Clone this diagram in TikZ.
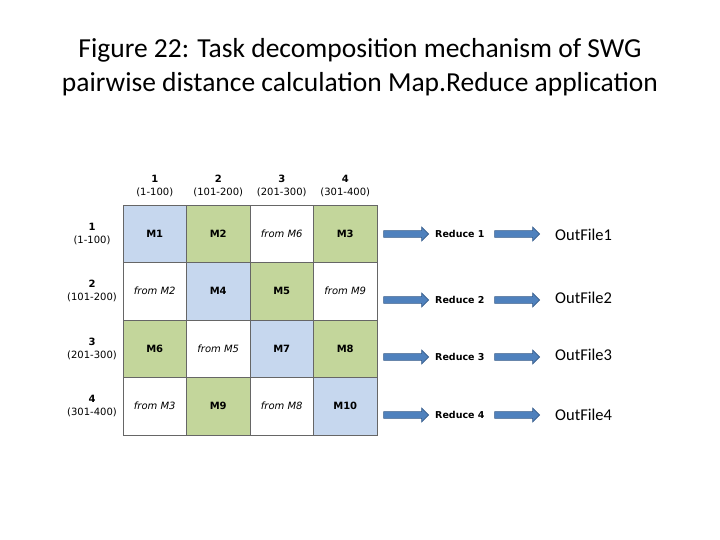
\documentclass[tikz,border=0pt]{standalone}
\usepackage{fontspec}
\setmainfont{Carlito}
\newfontfamily\vfont{DejaVu Sans}
\usetikzlibrary{shapes.arrows}
\definecolor{cb}{HTML}{C6D7EE}
\definecolor{cg}{HTML}{C3D69B}
\definecolor{ab}{HTML}{4F81BD}
\definecolor{abd}{HTML}{385D8A}
\tikzset{
 cell/.style={draw=black!60,line width=0.5pt,minimum width=63.5pt,minimum height=57.5pt,inner sep=0pt,font=\vfont\fontsize{10}{12}\selectfont\bfseries},
 fromc/.style={cell,fill=white,font=\vfont\fontsize{10}{12}\selectfont\itshape},
 hdr/.style={align=center,font=\vfont\fontsize{10}{12}\selectfont,inner sep=0pt},
 barr/.style={single arrow,fill=ab,draw=abd,line width=0.6pt,minimum width=14pt,single arrow head extend=2pt,single arrow head indent=0pt,minimum height=45pt,inner sep=1.5pt},
 red/.style={font=\vfont\fontsize{9.5}{12}\selectfont\bfseries,anchor=west,inner sep=0pt},
 outf/.style={font=\fontsize{16.5}{18}\selectfont,anchor=west,inner sep=0pt}
}
\begin{document}
\begin{tikzpicture}[x=1pt,y=-1pt]
\useasboundingbox (0,0) rectangle (720,540);
\node[align=center,font=\fontsize{27.5}{34}\selectfont] (title) at (360,67) {Figure 22: Task decomposition mechanism of SWG\\pairwise distance calculation Map.Reduce application};
% grid
\node[cell,fill=cb] (c11) at (154.75,233.75) {M1};
\node[cell,fill=cg] (c12) at (218.25,233.75) {M2};
\node[fromc] (c13) at (281.75,233.75) {from M6};
\node[cell,fill=cg] (c14) at (345.25,233.75) {M3};
\node[fromc] (c21) at (154.75,291.25) {from M2};
\node[cell,fill=cb] (c22) at (218.25,291.25) {M4};
\node[cell,fill=cg] (c23) at (281.75,291.25) {M5};
\node[fromc] (c24) at (345.25,291.25) {from M9};
\node[cell,fill=cg] (c31) at (154.75,348.75) {M6};
\node[fromc] (c32) at (218.25,348.75) {from M5};
\node[cell,fill=cb] (c33) at (281.75,348.75) {M7};
\node[cell,fill=cg] (c34) at (345.25,348.75) {M8};
\node[fromc] (c41) at (154.75,406.25) {from M3};
\node[cell,fill=cg] (c42) at (218.25,406.25) {M9};
\node[fromc] (c43) at (281.75,406.25) {from M8};
\node[cell,fill=cb] (c44) at (345.25,406.25) {M10};
% headers
\node[hdr] (h1) at (154.75,186) {\textbf{1}\\[1pt](1-100)};
\node[hdr] (h2) at (218.25,186) {\textbf{2}\\[1pt](101-200)};
\node[hdr] (h3) at (281.75,186) {\textbf{3}\\[1pt](201-300)};
\node[hdr] (h4) at (345.25,186) {\textbf{4}\\[1pt](301-400)};
\node[hdr] (r1) at (92,233.75) {\textbf{1}\\[1pt](1-100)};
\node[hdr] (r2) at (92,291.25) {\textbf{2}\\[1pt](101-200)};
\node[hdr] (r3) at (92,348.75) {\textbf{3}\\[1pt](201-300)};
\node[hdr] (r4) at (92,406.25) {\textbf{4}\\[1pt](301-400)};
% reduce rows
\foreach \i/\y/\oy in {1/234/235,2/300/298,3/357/355,4/415/415}{
 \node[barr] (a\i) at (404.5,\y) {};
 \node[red] (rd\i) at (435,\y) {Reduce \i};
 \node[barr] (b\i) at (515.5,\y) {};
 \node[outf] (o\i) at (555,\oy) {OutFile\i};
}
\end{tikzpicture}
\end{document}
